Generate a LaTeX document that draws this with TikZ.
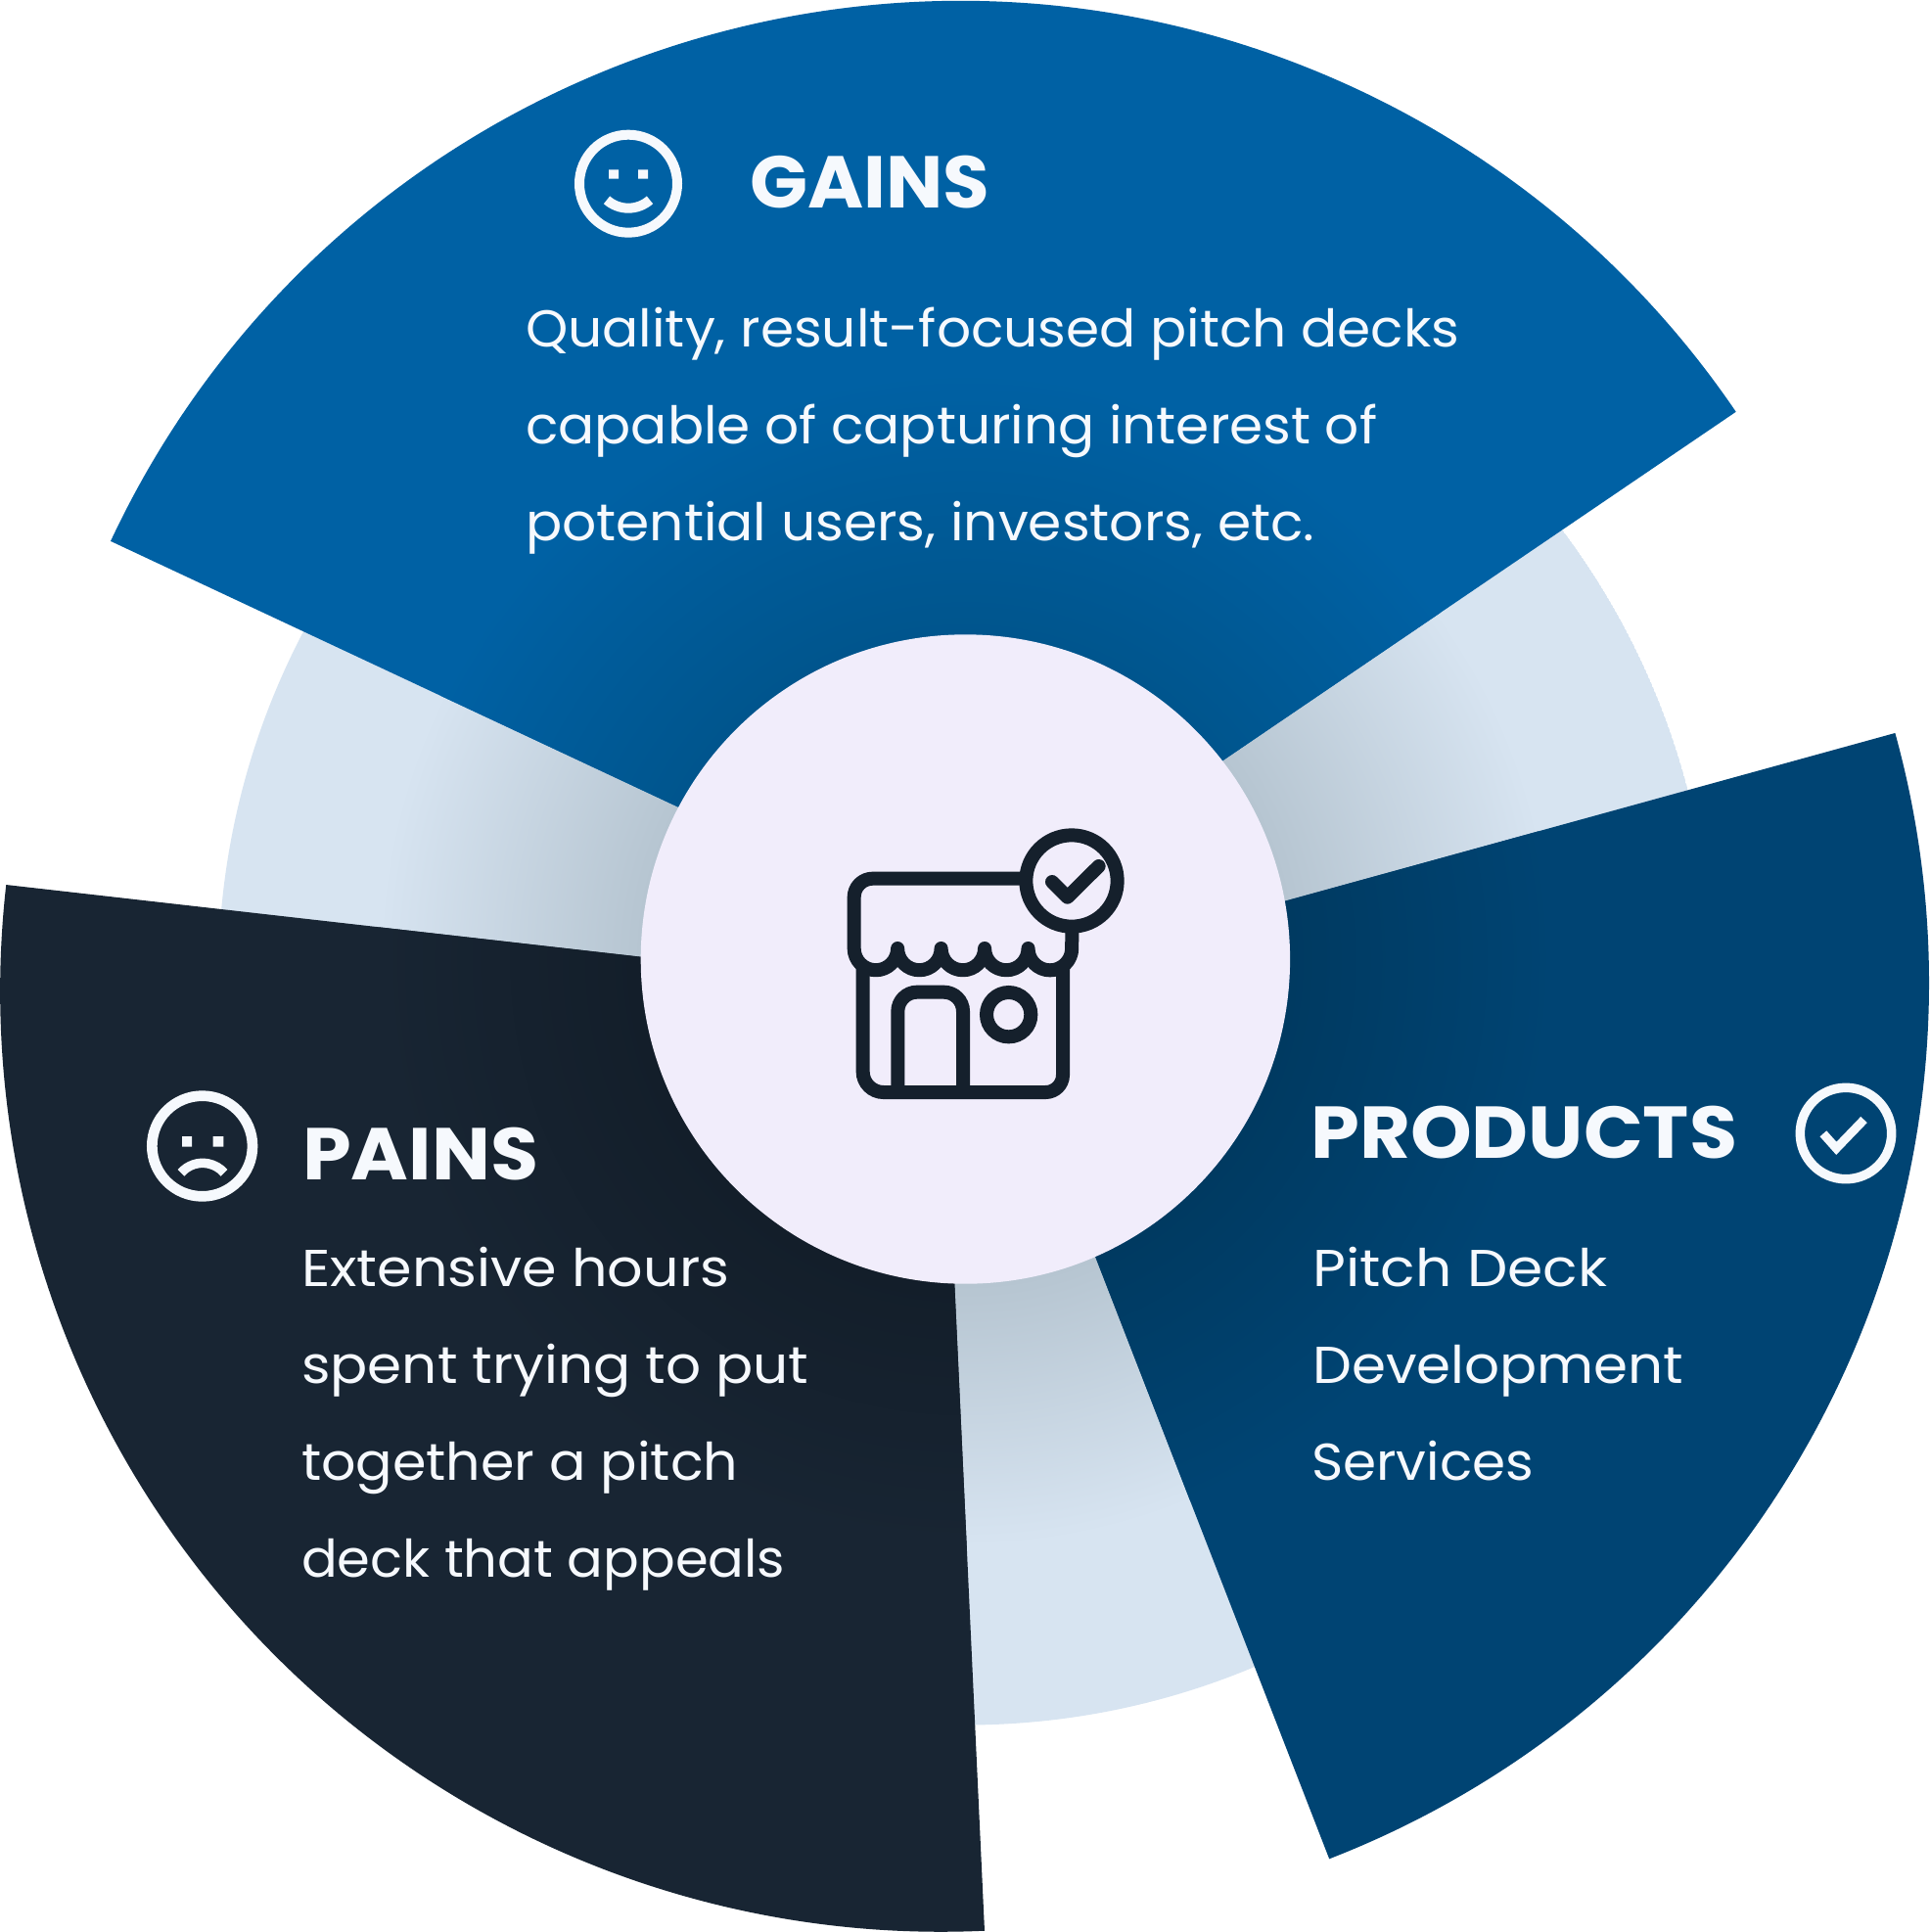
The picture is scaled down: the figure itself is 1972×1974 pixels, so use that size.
\documentclass[tikz,border=0pt]{standalone}
\usepackage{graphicx}
\usepackage{fontspec}
\setmainfont{Poppins}
\newfontfamily\bodyfont{Poppins}
\newfontfamily\titlefont{Poppins Bold}
\newcommand{\fitline}[2]{\resizebox{#1pt}{\height}{#2}}
\definecolor{paleBase}{HTML}{D7E4F1}
\definecolor{paleDark}{HTML}{B6C5D1}
\definecolor{gainsBase}{HTML}{0061A4}
\definecolor{gainsDark}{HTML}{00558D}
\definecolor{prodBase}{HTML}{004473}
\definecolor{prodDark}{HTML}{003A61}
\definecolor{painBase}{HTML}{182533}
\definecolor{painDark}{HTML}{131E2A}
\definecolor{hubFill}{HTML}{F1EDFB}
\definecolor{iconInk}{HTML}{15202C}
\definecolor{paper}{HTML}{F6F9FD}
\pgfdeclareradialshading{shPale}{\pgfpointorigin}{color(0bp)=(paleDark); color(13.82bp)=(paleDark); color(25bp)=(paleBase); color(50bp)=(paleBase)}
\pgfdeclareradialshading{shGains}{\pgfpointorigin}{color(0bp)=(gainsDark); color(13.82bp)=(gainsDark); color(25bp)=(gainsBase); color(50bp)=(gainsBase)}
\pgfdeclareradialshading{shProd}{\pgfpointorigin}{color(0bp)=(prodDark); color(13.82bp)=(prodDark); color(25bp)=(prodBase); color(50bp)=(prodBase)}
\pgfdeclareradialshading{shPain}{\pgfpointorigin}{color(0bp)=(painDark); color(13.82bp)=(painDark); color(25bp)=(painBase); color(50bp)=(painBase)}
\tikzset{
  titletext/.style={anchor=base west,inner sep=0pt,text=paper,font=\titlefont\fontsize{75}{75}\selectfont},
  bodytext/.style={anchor=base west,inner sep=0pt,text=paper,font=\bodyfont\fontsize{53}{53}\selectfont},
  storeline/.style={draw=iconInk,line width=14pt},
  paperline/.style={draw=paper,line cap=butt}
}
\begin{document}
\begin{tikzpicture}[x=1pt,y=1pt,yscale=-1]
\useasboundingbox (0,0) rectangle (1972,1974);
\fill[white] (0,0) rectangle (1972,1974);
\coordinate (hub) at (986.4,980);
\coordinate (gainApex) at (981,959.5);
\coordinate (prodApex) at (1010.4,1004);
\coordinate (painApex) at (961.4,1012.5);
% pale disc
\begin{scope}
  \clip (986,999.5) circle (763);
  \fill[paleBase] (986,999.5) circle (763);
  \shade[shading=shPale] (hub) circle (600);
\end{scope}
% gains
\begin{scope}
  \clip (gainApex) -- ++(-154.9:958.5) arc[start angle=-154.9,end angle=-34.2,radius=958.5] -- cycle;
  \fill[gainsBase] (0,0) rectangle (1972,1974);
  \shade[shading=shGains] (hub) circle (600);
\end{scope}
% products
\begin{scope}
  \clip (prodApex) -- ++(-15.4:960.5) arc[start angle=-15.4,end angle=68.77,radius=960.5] -- cycle;
  \fill[prodBase] (0,0) rectangle (1972,1974);
  \shade[shading=shProd] (hub) circle (600);
\end{scope}
% pains
\begin{scope}
  \clip (painApex) -- ++(87.34:961.3) arc[start angle=87.34,end angle=186.48,radius=961.3] -- cycle;
  \fill[painBase] (0,0) rectangle (1972,1974);
  \shade[shading=shPain] (hub) circle (600);
\end{scope}
% hub
\fill[hubFill] (hub) circle (331.7);
% store icon
\begin{scope}[shift={(820,800)},scale=0.33333]
  \draw[storeline,line cap=butt] (185,570) -- (185,885) arc[start angle=180,end angle=90,radius=63] -- (745,948) arc[start angle=90,end angle=0,radius=53] -- (798,570);
  \draw[storeline,line cap=butt] (292,948) -- (292,700) arc[start angle=180,end angle=270,radius=59] -- (433,641) arc[start angle=270,end angle=360,radius=59] -- (492,948);
  \draw[storeline] (632,710) circle (68);
  \draw[storeline,line join=round,line cap=round] (670,293) -- (215,293) arc[start angle=270,end angle=180,radius=57] -- (158,507)
    arc[start angle=180,end angle=0,radius=66.7]
    arc[start angle=180,end angle=0,radius=66.7]
    arc[start angle=180,end angle=0,radius=66.7]
    arc[start angle=180,end angle=0,radius=66.7]
    arc[start angle=180,end angle=0,radius=67] -- (826,445);
  \draw[storeline] (825,300) circle (140);
  \draw[storeline,line join=round,line cap=round] (765,303) -- (812,350) -- (908,255);
\end{scope}
% smile
\begin{scope}[shift={(560,100)},scale=0.33333]
  \draw[paperline,line width=10pt] (246,263) circle (150);
  \fill[paper] (186,220) rectangle (216,248) (276,220) rectangle (306,248);
  \draw[paperline,line width=10pt] (246,238.4) ++(131.5:99.6) arc[start angle=131.5,end angle=48.5,radius=99.6];
\end{scope}
% frown
\begin{scope}[shift={(130,1090)},scale=0.33333]
  \draw[paperline,line width=10.7pt] (230,243) circle (154);
  \fill[paper] (168,213) rectangle (198,245) (263,213) rectangle (295,245);
  \draw[paperline,line width=9.5pt] (231,382.6) ++(-138.9:87.6) arc[start angle=-138.9,end angle=-41.1,radius=87.6];
\end{scope}
% check badge
\draw[paperline,line width=9.5pt] (1886,1158) circle (46.7);
\coordinate (ck1) at (1862.9,1158.3);
\coordinate (ck2) at (1876.3,1173.3);
\coordinate (ck3) at (1904.5,1144);
\draw[paperline,line width=9pt,line join=miter] (ck1) -- (ck2) -- (ck3);
% titles
\node[titletext] (gainsTitle) at (766,212) {\fitline{245}{GAINS}};
\node[titletext] (painsTitle) at (309,1205) {\fitline{241}{PAINS}};
\node[titletext] (prodTitle) at (1339,1183) {\fitline{436}{PRODUCTS}};
% gains body
\node[bodytext] (g1) at (537,354) {\fitline{954}{Quality, result-focused pitch decks}};
\node[bodytext] (g2) at (537,453) {\fitline{870}{capable of capturing interest of}};
\node[bodytext] (g3) at (537,552) {\fitline{806}{potential users, investors, etc.}};
% pains body
\node[bodytext] (p1) at (308,1314) {\fitline{437}{Extensive hours}};
\node[bodytext] (p2) at (308,1413) {\fitline{518}{spent trying to put}};
\node[bodytext] (p3) at (308,1512) {\fitline{446}{together a pitch}};
\node[bodytext] (p4) at (308,1611) {\fitline{494}{deck that appeals}};
% products body
\node[bodytext] (r1) at (1341,1314) {\fitline{301}{Pitch Deck}};
\node[bodytext] (r2) at (1341,1413) {\fitline{379}{Development}};
\node[bodytext] (r3) at (1340,1512) {\fitline{227}{Services}};
\end{tikzpicture}
\end{document}
